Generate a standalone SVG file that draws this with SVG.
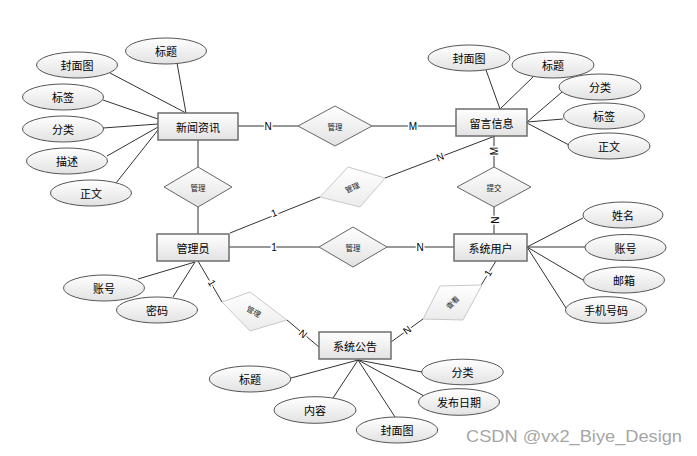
<svg xmlns="http://www.w3.org/2000/svg" width="697" height="456" viewBox="0 0 697 456">
<defs>
<linearGradient id="g" x1="0" y1="0" x2="0" y2="1"><stop offset="0" stop-color="#ffffff"/><stop offset="1" stop-color="#e2e2e2"/></linearGradient>
<linearGradient id="gl" x1="0" y1="0" x2="0" y2="1"><stop offset="0" stop-color="#ffffff"/><stop offset="1" stop-color="#ebebeb"/></linearGradient>
</defs>
<style>
.ent{fill:url(#g);stroke:#6e6e6e;stroke-width:1.5}
.att{fill:url(#g);stroke:#555;stroke-width:1}
.rel{fill:url(#g);stroke:#666;stroke-width:1}
.rels{fill:url(#gl);stroke:#c8c8c8;stroke-width:1}
.ln{stroke:#333;stroke-width:1;fill:none}
.t{font-family:"Noto Sans CJK SC","Liberation Sans",sans-serif;font-size:11px;fill:#000;text-anchor:middle;dominant-baseline:central}
.tr{font-family:"Noto Sans CJK SC","Liberation Sans",sans-serif;font-size:7.5px;fill:#222;text-anchor:middle;dominant-baseline:central}
.c{font-family:"Liberation Sans",sans-serif;font-size:10px;fill:#000;text-anchor:middle;dominant-baseline:central;stroke:#fff;stroke-width:3;paint-order:stroke}
</style>
<rect width="697" height="456" fill="#fff"/>
<g id="connectors">
<!-- 新闻资讯 attributes -->
<line class="ln" x1="177" y1="63" x2="186" y2="113"/>
<line class="ln" x1="110" y1="73" x2="186" y2="113"/>
<line class="ln" x1="103" y1="100" x2="158" y2="119"/>
<line class="ln" x1="103" y1="128" x2="158" y2="124"/>
<line class="ln" x1="107" y1="156" x2="158" y2="127"/>
<line class="ln" x1="116" y1="183" x2="158" y2="130"/>
<!-- 留言信息 attributes -->
<line class="ln" x1="486" y1="70" x2="500" y2="109"/>
<line class="ln" x1="533" y1="77" x2="500" y2="109"/>
<line class="ln" x1="562" y1="92" x2="527" y2="122"/>
<line class="ln" x1="563" y1="119" x2="527" y2="122"/>
<line class="ln" x1="569" y1="145" x2="527" y2="123"/>
<!-- 系统用户 attributes -->
<line class="ln" x1="583" y1="218" x2="527" y2="247"/>
<line class="ln" x1="585" y1="247" x2="527" y2="247"/>
<line class="ln" x1="583" y1="280" x2="527" y2="247"/>
<line class="ln" x1="566" y1="308" x2="527" y2="247"/>
<!-- 管理员 attributes -->
<line class="ln" x1="138" y1="279" x2="195" y2="262"/>
<line class="ln" x1="173" y1="297" x2="195" y2="262"/>
<!-- 系统公告 attributes -->
<line class="ln" x1="291" y1="378" x2="358" y2="360"/>
<line class="ln" x1="333" y1="398" x2="358" y2="360"/>
<line class="ln" x1="395" y1="417" x2="358" y2="360"/>
<line class="ln" x1="422" y1="372" x2="358" y2="360"/>
<line class="ln" x1="424" y1="396" x2="358" y2="360"/>
<!-- relationships -->
<line class="ln" x1="238" y1="126" x2="298" y2="126"/>
<line class="ln" x1="372" y1="126" x2="456" y2="126"/>
<line class="ln" x1="198" y1="140" x2="198" y2="167"/>
<line class="ln" x1="198" y1="207" x2="198" y2="234"/>
<line class="ln" x1="230" y1="233" x2="320" y2="197"/>
<line class="ln" x1="385" y1="178" x2="495" y2="136"/>
<line class="ln" x1="494" y1="136" x2="494" y2="167"/>
<line class="ln" x1="494" y1="207" x2="494" y2="234"/>
<line class="ln" x1="229" y1="247" x2="319" y2="247"/>
<line class="ln" x1="387" y1="247" x2="454" y2="247"/>
<line class="ln" x1="198" y1="261" x2="222" y2="302"/>
<line class="ln" x1="287" y1="320" x2="319" y2="347"/>
<line class="ln" x1="391" y1="342" x2="423" y2="319"/>
<line class="ln" x1="480" y1="287" x2="496" y2="261"/>
<!-- cardinalities -->
<text class="c" x="268" y="126">N</text>
<text class="c" x="413" y="126">M</text>
<text class="c" transform="translate(274,213) rotate(-22)">1</text>
<text class="c" transform="translate(440,157) rotate(-21)">N</text>
<text class="c" transform="translate(494,151) rotate(-90)">M</text>
<text class="c" transform="translate(494,220) rotate(90)">N</text>
<text class="c" x="274" y="247">1</text>
<text class="c" x="420" y="247">N</text>
<text class="c" transform="translate(212,283) rotate(60)">1</text>
<text class="c" transform="translate(303,334) rotate(40)">N</text>
<text class="c" transform="translate(407,330) rotate(-36)">N</text>
<text class="c" transform="translate(488,273) rotate(-58)">1</text>
</g>
<g id="e-xinwen"><rect class="ent" x="158" y="113" width="80" height="27"/><text class="t" x="198" y="126.5">新闻资讯</text></g>
<g id="e-liuyan"><rect class="ent" x="456" y="109" width="71" height="27"/><text class="t" x="491.5" y="122.5">留言信息</text></g>
<g id="e-admin"><rect class="ent" x="157" y="234" width="72" height="27"/><text class="t" x="193" y="247.5">管理员</text></g>
<g id="e-user"><rect class="ent" x="454" y="234" width="73" height="27"/><text class="t" x="490.5" y="247.5">系统用户</text></g>
<g id="e-notice"><rect class="ent" x="319" y="332" width="72" height="27"/><text class="t" x="355" y="345.5">系统公告</text></g>

<g id="r-manage1"><polygon class="rel" points="298,126 335,106 372,126 335,146"/><text class="tr" x="335" y="126">管理</text></g>
<g id="r-manage2"><polygon class="rel" points="164,187 198,167 232,187 198,207"/><text class="tr" x="198" y="187">管理</text></g>
<g id="r-submit"><polygon class="rel" points="457,187 494,167 531,187 494,207"/><text class="tr" x="494" y="187">提交</text></g>
<g id="r-manage3"><polygon class="rel" points="319,247 353,227 387,247 353,267"/><text class="tr" x="353" y="247">管理</text></g>
<g id="r-manage4"><polygon class="rels" points="320,197 348,167 385,178 360,207"/><text class="tr" transform="translate(352,187) rotate(-25)">管理</text></g>
<g id="r-manage5"><polygon class="rels" points="222,302 250,292 287,320 250,331"/><text class="tr" transform="translate(254,311) rotate(30)">管理</text></g>
<g id="r-view"><polygon class="rels" points="423,319 440,286 482,285 463,320"/><text class="tr" transform="translate(452,302) rotate(-45)">查看</text></g>

<g id="a-x-title"><ellipse class="att" cx="166" cy="51" rx="40.5" ry="13"/><text class="t" x="166" y="51">标题</text></g>
<g id="a-x-cover"><ellipse class="att" cx="77" cy="65" rx="40.5" ry="13"/><text class="t" x="77" y="65">封面图</text></g>
<g id="a-x-tag"><ellipse class="att" cx="63" cy="97" rx="40.5" ry="13"/><text class="t" x="63" y="97">标签</text></g>
<g id="a-x-cat"><ellipse class="att" cx="63" cy="129" rx="40.5" ry="13"/><text class="t" x="63" y="129">分类</text></g>
<g id="a-x-desc"><ellipse class="att" cx="67" cy="161" rx="40.5" ry="13"/><text class="t" x="67" y="161">描述</text></g>
<g id="a-x-body"><ellipse class="att" cx="91" cy="193" rx="40.5" ry="13"/><text class="t" x="91" y="193">正文</text></g>

<g id="a-l-cover"><ellipse class="att" cx="469" cy="58" rx="41" ry="13"/><text class="t" x="469" y="58">封面图</text></g>
<g id="a-l-title"><ellipse class="att" cx="553" cy="65" rx="41" ry="13"/><text class="t" x="553" y="65">标题</text></g>
<g id="a-l-cat"><ellipse class="att" cx="600" cy="87" rx="41" ry="13"/><text class="t" x="600" y="87">分类</text></g>
<g id="a-l-tag"><ellipse class="att" cx="604" cy="116" rx="40.5" ry="13"/><text class="t" x="604" y="116">标签</text></g>
<g id="a-l-body"><ellipse class="att" cx="609" cy="146" rx="41" ry="13"/><text class="t" x="609" y="146">正文</text></g>

<g id="a-u-name"><ellipse class="att" cx="623" cy="215" rx="40" ry="13"/><text class="t" x="623" y="215">姓名</text></g>
<g id="a-u-acc"><ellipse class="att" cx="625.5" cy="247.5" rx="40.5" ry="13"/><text class="t" x="625.5" y="247.5">账号</text></g>
<g id="a-u-mail"><ellipse class="att" cx="624" cy="280" rx="40.5" ry="13"/><text class="t" x="624" y="280">邮箱</text></g>
<g id="a-u-phone"><ellipse class="att" cx="606" cy="310" rx="40.5" ry="13.3"/><text class="t" x="606" y="310">手机号码</text></g>

<g id="a-a-acc"><ellipse class="att" cx="104" cy="288" rx="40.5" ry="13"/><text class="t" x="104" y="288">账号</text></g>
<g id="a-a-pwd"><ellipse class="att" cx="157" cy="310" rx="40.5" ry="13"/><text class="t" x="157" y="310">密码</text></g>

<g id="a-n-title"><ellipse class="att" cx="250" cy="379" rx="40.7" ry="13"/><text class="t" x="250" y="379">标题</text></g>
<g id="a-n-content"><ellipse class="att" cx="315" cy="410" rx="41" ry="13.3"/><text class="t" x="315" y="410">内容</text></g>
<g id="a-n-cover"><ellipse class="att" cx="397" cy="430" rx="40.7" ry="13"/><text class="t" x="397" y="430">封面图</text></g>
<g id="a-n-cat"><ellipse class="att" cx="462.5" cy="372" rx="40.8" ry="12.8"/><text class="t" x="462.5" y="372">分类</text></g>
<g id="a-n-date"><ellipse class="att" cx="459" cy="402" rx="40.5" ry="13.3"/><text class="t" x="459" y="402">发布日期</text></g>

<text x="466" y="442" font-family="Liberation Sans, sans-serif" font-size="17" fill="#a6a6a6" textLength="216" lengthAdjust="spacingAndGlyphs">CSDN @vx2_Biye_Design</text>
</svg>
